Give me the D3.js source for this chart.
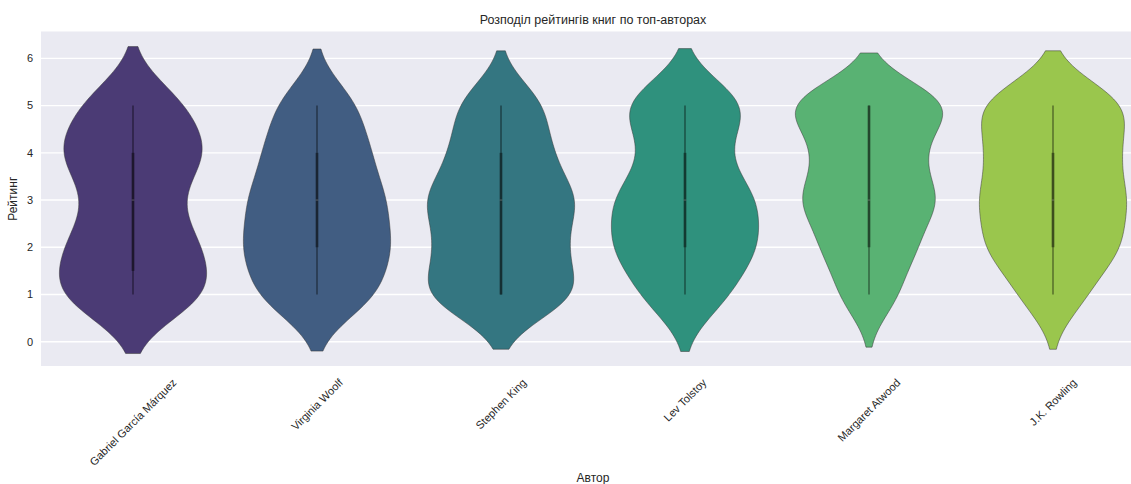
<!DOCTYPE html>
<html>
<head>
<meta charset="utf-8">
<script src="https://cdn.jsdelivr.net/npm/d3@7"></script>
<style>
  body { margin: 0; background: #ffffff; }
  text { font-family: "Liberation Sans", Arial, sans-serif; fill: #262626; }
</style>
</head>
<body>
<svg id="chart" width="1131" height="484"></svg>
<script>
// Authors on the category axis
const authors = ["Gabriel García Márquez", "Virginia Woolf", "Stephen King", "Lev Tolstoy", "Margaret Atwood", "J.K. Rowling"];
// Possible book ratings and how many books of each author got each rating
const ratingLevels = [1, 2, 3, 4, 5];
const countsMarquez = [18, 15, 9, 17, 12];
const countsWoolf   = [12, 14, 13, 10, 8];
const countsKing    = [20, 15, 19, 12, 11];
const countsTolstoy = [10, 16, 16, 8, 15];
const countsAtwood  = [9, 14, 21, 15, 26];
const countsRowling = [7, 14, 15, 13, 16];
const yTicks = [0, 1, 2, 3, 4, 5, 6];
const titleText = "Розподіл рейтингів книг по топ-авторах";
const xTitle = "Автор";
const yTitle = "Рейтинг";

const ratingCounts = [countsMarquez, countsWoolf, countsKing, countsTolstoy, countsAtwood, countsRowling];

const svg = d3.select("#chart");
const plot = { left: 41, right: 1145, top: 31.5, bottom: 366 };

const x = d3.scaleBand().domain(authors).range([plot.left, plot.right]).paddingInner(0).paddingOuter(0);
const y = d3.scaleLinear().domain([-0.515, 6.57]).range([plot.bottom, plot.top]);

// viridis palette, softened the way seaborn does for violins
const colors = authors.map((_, i) => {
  const c = d3.hsl(d3.interpolateViridis((i + 1) / (authors.length + 1)));
  c.s *= 0.75;
  return c.formatHex();
});
const edgeColor = "#363636";

// axes background
svg.append("rect")
  .attr("x", plot.left).attr("y", plot.top)
  .attr("width", plot.right - plot.left).attr("height", plot.bottom - plot.top)
  .attr("fill", "#eaeaf2");

// horizontal grid
svg.append("g").selectAll("line").data(yTicks).join("line")
  .attr("x1", plot.left).attr("x2", plot.right)
  .attr("y1", d => y(d)).attr("y2", d => y(d))
  .attr("stroke", "#ffffff").attr("stroke-width", 1.4);

// y tick labels
svg.append("g").selectAll("text").data(yTicks).join("text")
  .attr("x", plot.left - 8).attr("y", d => y(d)).attr("dy", "0.35em")
  .attr("text-anchor", "end").attr("font-size", 11)
  .text(d => d);

// Gaussian KDE with Scott's bandwidth, cut at 2 bandwidths
function violinStats(counts) {
  const values = [];
  counts.forEach((c, i) => { for (let k = 0; k < c; k++) values.push(ratingLevels[i]); });
  values.sort(d3.ascending);
  const n = values.length;
  const bw = d3.deviation(values) * Math.pow(n, -1 / 5);
  const lo = d3.min(values) - 2 * bw, hi = d3.max(values) + 2 * bw;
  const grid = d3.range(100).map(i => lo + (hi - lo) * i / 99);
  const dens = grid.map(g => d3.sum(values, v => Math.exp(-0.5 * ((g - v) / bw) ** 2)));
  const maxD = d3.max(dens);
  const q1 = d3.quantile(values, 0.25), med = d3.quantile(values, 0.5), q3 = d3.quantile(values, 0.75);
  const iqr = q3 - q1;
  const wLo = d3.min(values.filter(v => v >= q1 - 1.5 * iqr));
  const wHi = d3.max(values.filter(v => v <= q3 + 1.5 * iqr));
  return { curve: grid.map((g, i) => ({ v: g, d: dens[i] / maxD })), q1, med, q3, wLo, wHi };
}

const halfWidth = x.bandwidth() * 0.4;

authors.forEach((a, i) => {
  const s = violinStats(ratingCounts[i]);
  const cx = x(a) + x.bandwidth() / 2;
  const innerColor = d3.color(colors[i]).darker(2.6).formatHex();
  const g = svg.append("g");
  const area = d3.area()
    .y(d => y(d.v))
    .x0(d => cx - d.d * halfWidth)
    .x1(d => cx + d.d * halfWidth);
  g.append("path").datum(s.curve)
    .attr("d", area)
    .attr("fill", colors[i])
    .attr("stroke", edgeColor).attr("stroke-opacity", 0.5).attr("stroke-width", 1);
  // whiskers
  g.append("line")
    .attr("x1", cx).attr("x2", cx)
    .attr("y1", y(s.wLo)).attr("y2", y(s.wHi))
    .attr("stroke", innerColor).attr("stroke-width", 1.1);
  // interquartile box
  g.append("line")
    .attr("x1", cx).attr("x2", cx)
    .attr("y1", y(s.q1)).attr("y2", y(s.q3))
    .attr("stroke", innerColor).attr("stroke-width", 2.6);
  // median tick
  g.append("line")
    .attr("x1", cx - 1.3).attr("x2", cx + 1.3)
    .attr("y1", y(s.med)).attr("y2", y(s.med))
    .attr("stroke", "#bdbdbd").attr("stroke-width", 0.8).attr("stroke-opacity", 0.5);
});

// rotated category labels, centred under each violin
const labelTop = 376, fs = 11, lineH = fs * 1.2;
const xl = svg.append("g");
authors.forEach(a => {
  const t = xl.append("text")
    .attr("font-size", fs).attr("text-anchor", "middle").attr("dy", "0.35em")
    .text(a);
  const L = t.node().getComputedTextLength();
  const side = (L + lineH) * Math.SQRT1_2;
  const cx = x(a) + x.bandwidth() / 2;
  t.attr("transform", `translate(${cx},${labelTop + side / 2}) rotate(-45)`);
});

// titles
svg.append("text")
  .attr("x", (plot.left + plot.right) / 2).attr("y", 24)
  .attr("text-anchor", "middle").attr("font-size", 12.5)
  .text(titleText);
svg.append("text")
  .attr("x", (plot.left + plot.right) / 2).attr("y", 482)
  .attr("text-anchor", "middle").attr("font-size", 12)
  .text(xTitle);
svg.append("text")
  .attr("transform", `translate(17,${(plot.top + plot.bottom) / 2}) rotate(-90)`)
  .attr("text-anchor", "middle").attr("font-size", 12)
  .text(yTitle);
</script>
</body>
</html>
